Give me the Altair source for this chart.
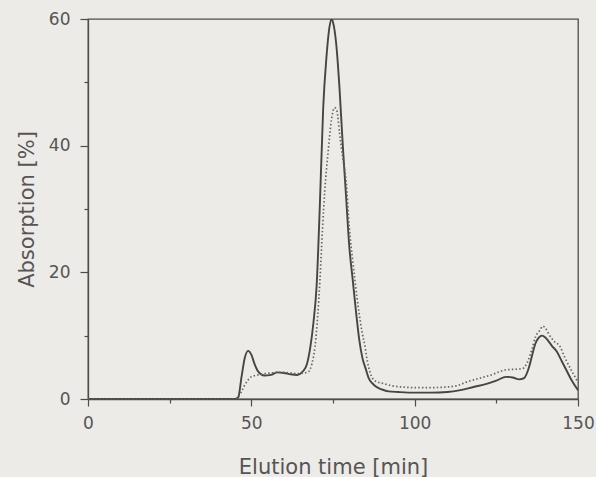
import altair as alt
import pandas as pd

solid_x = [0, 45, 46, 47, 48, 49, 50, 51, 52, 54, 56, 58, 60, 62, 64, 65, 66, 67, 68, 69, 70, 71, 72, 73, 74, 74.6, 75, 76, 77, 78, 79, 80, 81, 82, 83, 84, 85, 86, 87, 88, 90, 92, 95, 100, 105, 110, 114, 118, 122, 125, 128, 130, 132, 133.5, 135, 136, 137, 138, 139, 140, 141, 142, 143.5, 145, 146.5, 148, 150]
solid_y = [0, 0, 0.3, 3.5, 6.5, 7.6, 7.0, 5.5, 4.4, 3.7, 3.8, 4.2, 4.1, 3.9, 3.8, 4.0, 4.5, 5.5, 8.0, 12, 18, 31, 46, 54, 59, 60, 59.5, 56, 49, 40, 32, 24, 19, 14, 9.5, 6.5, 4.8, 3.2, 2.5, 2.0, 1.5, 1.2, 1.1, 1.0, 1.0, 1.1, 1.4, 1.9, 2.4, 2.9, 3.5, 3.4, 3.1, 3.3, 5.0, 7.0, 8.8, 9.7, 10.0, 9.7, 9.1, 8.4, 7.5, 6.0, 4.5, 3.0, 1.4]

dotted_x = [0, 45, 46, 47, 48, 49, 50, 52, 54, 56, 58, 60, 62, 64, 66, 67.5, 68.5, 69.5, 70.3, 71, 71.8, 72.5, 73.5, 74.5, 75.5, 76.2, 77, 78, 79, 80, 81, 81.7, 83, 84, 84.8, 85.5, 86.3, 87.2, 88.5, 90, 93, 96, 100, 105, 110, 113, 116, 120, 124, 126, 128, 131, 133, 134.5, 135.8, 137, 138.4, 139.2, 140, 141, 142.5, 144.5, 146, 148, 149.6, 150]
dotted_y = [0, 0, 0.3, 1.2, 2.2, 3.0, 3.5, 3.8, 4.0, 4.1, 4.2, 4.2, 4.1, 4.0, 4.1, 4.3, 5.5, 8.3, 13, 18.8, 27, 33, 39, 44, 46, 45.5, 42, 38, 34.5, 27, 22, 18.8, 13.5, 10.3, 8.3, 6.0, 4.3, 3.2, 2.7, 2.5, 2.1, 1.9, 1.8, 1.8, 1.9, 2.1, 2.7, 3.3, 3.9, 4.3, 4.6, 4.7, 4.8, 5.8, 7.7, 9.8, 10.9, 11.5, 11.2, 10.3, 9.2, 8.3, 6.5, 4.5, 3.0, 2.6]

df_solid = pd.DataFrame({"t": solid_x, "a": solid_y})
df_dot = pd.DataFrame({"t": dotted_x, "a": dotted_y})

ink = "#4d4d4d"
font = "DejaVu Sans"

x_enc = alt.X(
    "t:Q",
    scale=alt.Scale(domain=[0, 150], nice=False, zero=False),
    axis=alt.Axis(
        title="Elution time [min]",
        values=[0, 25, 50, 75, 100, 125, 150],
        labelExpr="datum.value % 50 === 0 ? datum.label : ''",
        tickSize={"condition": {"test": "datum.value % 50 === 0", "value": 7}, "value": 4},
        grid=False,
        labelFlush=False,
        labelPadding=9,
        titlePadding=25,
    ),
)
y_enc = alt.Y(
    "a:Q",
    scale=alt.Scale(domain=[0, 60], nice=False),
    axis=alt.Axis(
        title="Absorption [%]",
        values=[0, 10, 20, 30, 40, 50, 60],
        labelExpr="datum.value % 20 === 0 ? datum.label : ''",
        tickSize={"condition": {"test": "datum.value % 20 === 0", "value": 8}, "value": 4},
        grid=False,
        labelFlush=False,
        labelPadding=10,
        titlePadding=11,
    ),
)

solid = alt.Chart(df_solid).mark_line(
    color="#454545", strokeWidth=1.9, interpolate="monotone", clip=True
).encode(x=x_enc, y=y_enc)

dotted = alt.Chart(df_dot).mark_line(
    color="#666666", strokeWidth=1.7, strokeDash=[1.5, 2.2], interpolate="monotone", clip=True
).encode(x=x_enc, y=y_enc)

chart = (
    alt.layer(solid, dotted)
    .properties(
        width=490,
        height=380,
        background="#ecebe7",
        padding={"left": 88, "top": 19, "right": 18, "bottom": 78},
        autosize=alt.AutoSizeParams(type="none"),
    )
    .configure_view(stroke=ink, strokeWidth=1.3, fill="#ecebe7")
    .configure_axis(
        domainColor=ink,
        domainWidth=1.3,
        tickColor=ink,
        tickWidth=1.2,
        labelColor="#555555",
        labelFont=font,
        labelFontSize=17,
        titleColor="#555555",
        titleFont=font,
        titleFontSize=21,
        titleFontWeight="normal",
    )
)

chart.save("out.html", embed_options={"renderer": "svg", "actions": False})
